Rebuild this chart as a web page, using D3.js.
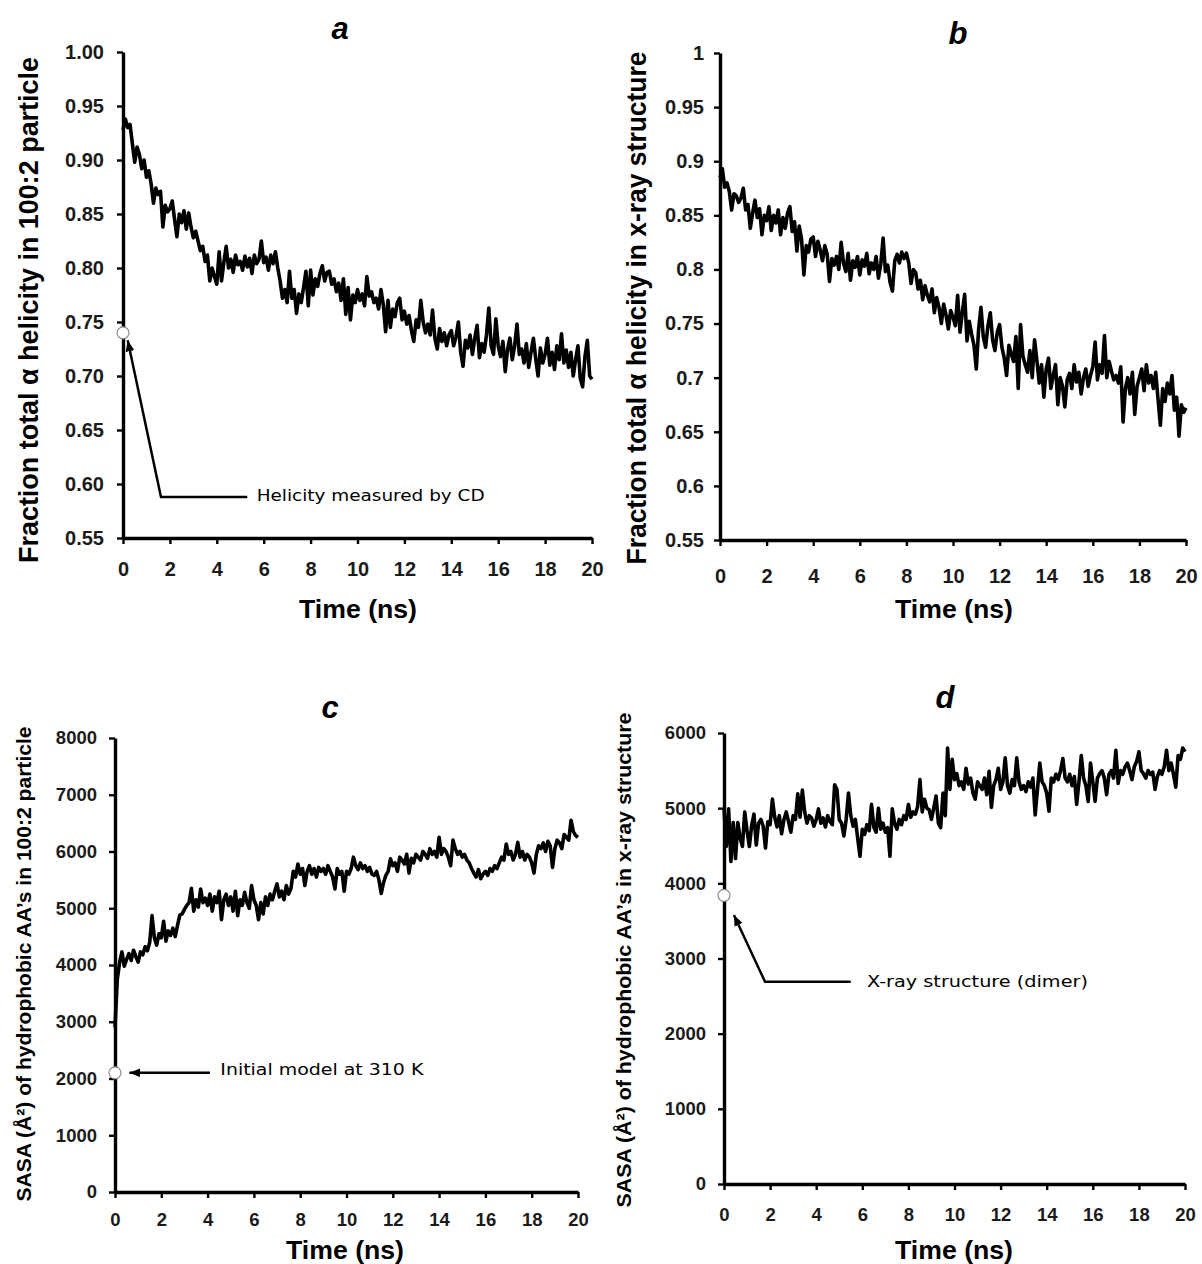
<!DOCTYPE html>
<html>
<head>
<meta charset="utf-8">
<script src="https://cdn.jsdelivr.net/npm/d3@7"></script>
<style>
  body { margin: 0; background: #fff; }
  svg { display: block; font-family: "Liberation Sans", Arial, sans-serif; }
</style>
</head>
<body>
<svg id="fig" width="1202" height="1264"></svg>
<script>
// ----- data (time step 0.1 ns, 0..20 ns)
var timeStep = 0.1;
var timeTicks = [0, 2, 4, 6, 8, 10, 12, 14, 16, 18, 20];
var helicityTicks = [0.55, 0.6, 0.65, 0.7, 0.75, 0.8, 0.85, 0.9, 0.95, 1];
var sasaTicksC = [0, 1000, 2000, 3000, 4000, 5000, 6000, 7000, 8000];
var sasaTicksD = [0, 1000, 2000, 3000, 4000, 5000, 6000];

// a: fraction helicity, 100:2 particle
var helicityA = [
  0.928, 0.938, 0.930, 0.933, 0.915, 0.898, 0.912, 0.905, 0.892, 0.900,
  0.884, 0.890, 0.878, 0.860, 0.874, 0.868, 0.871, 0.838, 0.858, 0.852,
  0.855, 0.862, 0.845, 0.829, 0.850, 0.842, 0.853, 0.836, 0.851, 0.838,
  0.828, 0.834, 0.825, 0.816, 0.820, 0.806, 0.812, 0.788, 0.800, 0.792,
  0.785, 0.815, 0.788, 0.805, 0.820, 0.800, 0.808, 0.796, 0.812, 0.803,
  0.806, 0.798, 0.811, 0.801, 0.809, 0.795, 0.812, 0.804, 0.808, 0.825,
  0.805, 0.810, 0.798, 0.812, 0.804, 0.815, 0.800, 0.788, 0.772, 0.780,
  0.768, 0.797, 0.772, 0.780, 0.758, 0.776, 0.768, 0.782, 0.797, 0.765,
  0.798, 0.775, 0.790, 0.783, 0.795, 0.802, 0.788, 0.796, 0.797, 0.785,
  0.790, 0.778, 0.786, 0.770, 0.790, 0.757, 0.782, 0.752, 0.775, 0.768,
  0.780, 0.770, 0.776, 0.765, 0.792, 0.774, 0.778, 0.768, 0.772, 0.762,
  0.780, 0.766, 0.741, 0.770, 0.745, 0.762, 0.755, 0.768, 0.772, 0.752,
  0.760, 0.748, 0.756, 0.742, 0.732, 0.752, 0.745, 0.770, 0.750, 0.740,
  0.748, 0.738, 0.761, 0.735, 0.725, 0.744, 0.732, 0.740, 0.728, 0.738,
  0.742, 0.728, 0.736, 0.750, 0.722, 0.709, 0.733, 0.726, 0.738, 0.720,
  0.735, 0.747, 0.717, 0.730, 0.722, 0.738, 0.763, 0.728, 0.720, 0.753,
  0.728, 0.718, 0.732, 0.704, 0.725, 0.735, 0.715, 0.728, 0.748, 0.720,
  0.725, 0.712, 0.730, 0.708, 0.722, 0.735, 0.716, 0.700, 0.726, 0.712,
  0.720, 0.735, 0.710, 0.722, 0.706, 0.728, 0.715, 0.739, 0.712, 0.724,
  0.708, 0.722, 0.700, 0.715, 0.728, 0.698, 0.690, 0.718, 0.733, 0.700,
  0.697
];

// b: fraction helicity, x-ray structure
var helicityB = [
  0.885, 0.893, 0.876, 0.880, 0.872, 0.855, 0.870, 0.868, 0.862, 0.866,
  0.875, 0.855, 0.860, 0.838, 0.852, 0.864, 0.848, 0.856, 0.832, 0.850,
  0.845, 0.858, 0.836, 0.850, 0.843, 0.855, 0.832, 0.848, 0.838, 0.852,
  0.858, 0.835, 0.844, 0.817, 0.840, 0.828, 0.795, 0.822, 0.816, 0.828,
  0.830, 0.812, 0.826, 0.818, 0.808, 0.822, 0.814, 0.789, 0.810, 0.804,
  0.812, 0.800, 0.825, 0.806, 0.798, 0.815, 0.790, 0.808, 0.802, 0.812,
  0.795, 0.809, 0.803, 0.815, 0.796, 0.806, 0.800, 0.812, 0.792, 0.805,
  0.829, 0.798, 0.804, 0.788, 0.780, 0.808, 0.814, 0.806, 0.816, 0.810,
  0.815, 0.806, 0.787, 0.800, 0.797, 0.782, 0.790, 0.772, 0.785, 0.776,
  0.770, 0.782, 0.760, 0.774, 0.765, 0.750, 0.768, 0.758, 0.745, 0.762,
  0.756, 0.748, 0.776, 0.742, 0.760, 0.777, 0.734, 0.752, 0.740, 0.730,
  0.708, 0.745, 0.765, 0.738, 0.728, 0.748, 0.760, 0.735, 0.725, 0.742,
  0.749, 0.728, 0.718, 0.702, 0.730, 0.722, 0.715, 0.738, 0.690, 0.749,
  0.720, 0.712, 0.705, 0.725, 0.700, 0.735, 0.716, 0.695, 0.712, 0.682,
  0.708, 0.718, 0.690, 0.702, 0.712, 0.675, 0.700, 0.692, 0.673, 0.698,
  0.704, 0.690, 0.712, 0.696, 0.705, 0.685, 0.700, 0.708, 0.692, 0.702,
  0.710, 0.733, 0.698, 0.712, 0.704, 0.739, 0.700, 0.715, 0.706, 0.698,
  0.702, 0.695, 0.710, 0.659, 0.690, 0.700, 0.685, 0.705, 0.666, 0.692,
  0.700, 0.708, 0.688, 0.712, 0.695, 0.702, 0.690, 0.705, 0.680, 0.656,
  0.690, 0.678, 0.695, 0.685, 0.702, 0.670, 0.682, 0.646, 0.675, 0.668,
  0.672
];

// c: SASA of hydrophobic AA's, 100:2 particle
var sasaC = [
  2900, 3750, 4050, 4230, 3980, 4100, 4200, 4080, 4260, 4150,
  4050, 4230, 4180, 4320, 4250, 4400, 4870, 4480, 4350, 4550,
  4480, 4770, 4420, 4600, 4520, 4650, 4500, 4700, 4880, 4900,
  4980, 5050, 5100, 5350, 4950, 5150, 5020, 5340, 5100, 5180,
  5050, 5250, 4950, 5200, 5100, 5300, 4800, 5150, 5250, 5050,
  5200, 4950, 5300, 4870, 5150, 5050, 5280, 5100, 5000, 5400,
  5150, 5050, 4800, 5100, 4900, 5200, 5050, 5250, 5150, 5300,
  5430, 5200, 5300, 5150, 5400, 5250, 5350, 5650, 5550, 5780,
  5600, 5700, 5400, 5650, 5750, 5600, 5700, 5550, 5720, 5650,
  5700, 5600, 5750, 5650, 5550, 5340, 5700, 5600, 5650, 5300,
  5650, 5600, 5700, 5900, 5750, 5680, 5800, 5700, 5750, 5650,
  5720, 5600, 5580, 5650, 5500, 5260, 5450, 5580, 5650, 5870,
  5750, 5800, 5650, 5900, 5850, 5780, 5950, 5620, 5880, 5800,
  5950, 5900, 5850, 6000, 5950, 5880, 6050, 5950, 6000, 5900,
  6250, 5950, 6050, 6000, 5900, 5750, 6200, 6050, 5950, 6000,
  5900, 5950, 5850, 5800, 5700, 5620, 5550, 5680, 5520, 5600,
  5650, 5580, 5700, 5650, 5750, 5700, 5800, 5900, 5850, 6130,
  5950, 6000, 5850, 5950, 6160, 5900, 6000, 5850, 5950, 5900,
  5800, 5620, 5950, 6100, 6050, 6150, 6000, 6180, 6100, 5720,
  6050, 6200, 6150, 6050, 6300, 6250, 6200, 6550, 6350, 6280,
  6250
];

// d: SASA of hydrophobic AA's, x-ray structure
var sasaD = [
  5000, 4490, 4990, 4290, 4810, 4330, 4810, 4600, 4490, 4950,
  4700, 4490, 4770, 4920, 4510, 4800, 4850, 4760, 4470, 4820,
  4780, 5120, 4880, 4750, 4900, 4660, 4850, 4950, 4820, 4680,
  4900, 4850, 5190, 4880, 5240, 4950, 4800, 4900, 4870, 4760,
  4850, 4990, 4800, 4870, 4750, 4900, 4820, 4780, 5310, 5250,
  4850, 4800, 4630, 4850, 5200, 4900, 4760, 4850, 4600, 4360,
  4720, 4650, 4780, 4700, 5050, 4750, 4680, 5000, 4720, 4800,
  4680, 4740, 4360, 4990, 4800, 4720, 4850, 4780, 4900, 4850,
  5050, 4880, 4950, 4920, 5020, 5380, 4950, 5120, 5000, 4980,
  4850, 5000, 5160, 4800, 4740, 5200, 4900, 5800, 5250, 5650,
  5380, 5460, 5300, 5350, 5250, 5530, 5320, 5400, 5200, 5120,
  5350, 5300, 5250, 5400, 5180, 5490, 5010, 5300, 5380, 5530,
  5250, 5350, 5670, 5300, 5200, 5380, 5300, 5670, 5350, 5250,
  5300, 5220, 5350, 5280, 5400, 4910, 5250, 5600, 5350, 5300,
  5200, 4960, 5400, 5350, 5450, 5380, 5500, 5660, 5400, 5350,
  5450, 5300, 5420, 5050, 5350, 5700, 5400, 5300, 5090, 5600,
  5350, 5090, 5400, 5460, 5500, 5400, 5180, 5450, 5500, 5400,
  5770, 5330, 5500, 5450, 5550, 5600, 5500, 5380, 5550, 5620,
  5750, 5500, 5460, 5400, 5500, 5450, 5480, 5250, 5420, 5500,
  5450, 5550, 5770, 5500, 5600, 5450, 5280, 5700, 5650, 5800,
  5750
];

// measured reference points
var cdHelicity = 0.74;
var initialSasa = 2100;
var xraySasa = 3840;

var svg = d3.select("#fig");

svg.append("defs").append("marker")
    .attr("id", "arrow")
    .attr("viewBox", "0 0 10 8")
    .attr("refX", 10).attr("refY", 4)
    .attr("markerWidth", 11).attr("markerHeight", 9)
    .attr("markerUnits", "userSpaceOnUse")
    .attr("orient", "auto")
  .append("path")
    .attr("d", "M0,0 L10,4 L0,8 z")
    .attr("fill", "#000");

function drawPanel(p) {
  var x = d3.scaleLinear().domain([0, 20]).range(p.xr);
  var y = d3.scaleLinear().domain(p.yd).range(p.yr);
  var g = svg.append("g");

  var xAxis = g.append("g")
      .attr("transform", "translate(0," + p.yr[0] + ")")
      .call(d3.axisBottom(x).tickValues(timeTicks).tickSize(6)
            .tickSizeOuter(0).tickPadding(p.xpad));
  var yAxis = g.append("g")
      .attr("transform", "translate(" + p.xr[0] + ",0)")
      .call(d3.axisLeft(y).tickValues(p.ticks).tickFormat(d3.format(p.fmt))
            .tickSize(6).tickSizeOuter(0).tickPadding(p.ypad));

  [xAxis, yAxis].forEach(function(a) {
    a.select(".domain").attr("stroke", "#000").attr("stroke-width", 3.4);
    a.selectAll(".tick line").attr("stroke", "#000").attr("stroke-width", 2.4);
    a.selectAll(".tick text")
      .attr("fill", "#1a1a1a")
      .style("font-size", p.tickFont + "px")
      .style("font-weight", "bold");
  });

  var line = d3.line()
      .x(function(d, i) { return x(i * timeStep); })
      .y(function(d) { return y(d); });

  g.append("path")
      .datum(p.values)
      .attr("d", line)
      .attr("fill", "none")
      .attr("stroke", "#000")
      .attr("stroke-width", 3.6)
      .attr("stroke-linejoin", "round");

  // panel letter
  g.append("text")
      .attr("x", p.title[1]).attr("y", p.title[2])
      .attr("text-anchor", "middle")
      .style("font-size", "31px").style("font-weight", "bold").style("font-style", "italic")
      .text(p.title[0]);

  g.append("text")
      .attr("x", p.xlab[0]).attr("y", p.xlab[1])
      .attr("text-anchor", "middle")
      .attr("textLength", 118)
      .attr("lengthAdjust", "spacingAndGlyphs")
      .style("font-size", "26px").style("font-weight", "bold")
      .text("Time (ns)");

  g.append("text")
      .attr("transform", "translate(" + p.ylab[0] + "," + p.ylab[1] + ") rotate(-90)")
      .attr("text-anchor", "middle")
      .attr("textLength", p.ylab[3])
      .attr("lengthAdjust", "spacingAndGlyphs")
      .style("font-size", p.ylab[2] + "px").style("font-weight", "bold")
      .text(p.ytitle);

  if (p.note) p.note(g, x, y);
}

function marker(g, cx, cy) {
  g.append("circle")
      .attr("cx", cx).attr("cy", cy).attr("r", 6)
      .attr("fill", "#fff").attr("stroke", "#8a8a8a").attr("stroke-width", 1.2);
}

function noteText(g, tx, ty, len, str) {
  g.append("text")
      .attr("x", tx).attr("y", ty)
      .attr("dy", "0.35em")
      .attr("textLength", len)
      .attr("lengthAdjust", "spacingAndGlyphs")
      .style("font-family", "'DejaVu Sans', sans-serif")
      .style("font-size", "16px")
      .text(str);
}

drawPanel({
  values: helicityA, xr: [123, 592], yr: [538, 52], yd: [0.55, 1],
  ticks: helicityTicks, fmt: ".2f", xpad: 18, ypad: 13, tickFont: 20,
  title: ["a", 340, 39], xlab: [358, 618],
  ylab: [38, 310, 27, 506],
  ytitle: "Fraction total \u03b1 helicity in 100:2 particle",
  note: function(g, x, y) {
    g.append("path")
        .attr("d", d3.line()([[x(5.3), y(0.588)], [x(1.62), y(0.588)], [x(0.2), y(0.733)]]))
        .attr("fill", "none").attr("stroke", "#000").attr("stroke-width", 2.5)
        .attr("marker-end", "url(#arrow)");
    marker(g, x(0), y(cdHelicity));
    noteText(g, x(5.7), y(0.588) - 2, 228, "Helicity measured by CD");
  }
});

drawPanel({
  values: helicityB, xr: [720, 1186], yr: [540, 53], yd: [0.55, 1],
  ticks: helicityTicks, fmt: "~g", xpad: 23, ypad: 10, tickFont: 20,
  title: ["b", 958, 44], xlab: [954, 618],
  ylab: [646, 308, 27, 513],
  ytitle: "Fraction total \u03b1 helicity in x-ray structure"
});

drawPanel({
  values: sasaC, xr: [115, 578], yr: [1192, 738], yd: [0, 8000],
  ticks: sasaTicksC, fmt: "d", xpad: 15, ypad: 12, tickFont: 18.5,
  title: ["c", 330, 718], xlab: [345, 1259],
  ylab: [31, 964, 21, 475],
  ytitle: "SASA (\u00c5\u00b2) of hydrophobic AA\u2019s in 100:2 particle",
  note: function(g, x, y) {
    g.append("line")
        .attr("x1", x(4.1)).attr("y1", y(initialSasa))
        .attr("x2", x(0.62)).attr("y2", y(initialSasa))
        .attr("stroke", "#000").attr("stroke-width", 2.5)
        .attr("marker-end", "url(#arrow)");
    marker(g, x(0), y(initialSasa));
    noteText(g, x(4.55), y(initialSasa) - 3, 203, "Initial model at 310 K");
  }
});

drawPanel({
  values: sasaD, xr: [724, 1185], yr: [1184, 733], yd: [0, 6000],
  ticks: sasaTicksD, fmt: "d", xpad: 18, ypad: 12, tickFont: 18.5,
  title: ["d", 945, 708], xlab: [954, 1259],
  ylab: [631, 960, 21, 495],
  ytitle: "SASA (\u00c5\u00b2) of hydrophobic AA\u2019s in x-ray structure",
  note: function(g, x, y) {
    g.append("path")
        .attr("d", d3.line()([[x(5.5), y(2690)], [x(1.78), y(2690)], [x(0.43), y(3580)]]))
        .attr("fill", "none").attr("stroke", "#000").attr("stroke-width", 2.5)
        .attr("marker-end", "url(#arrow)");
    marker(g, x(0), y(xraySasa));
    noteText(g, x(6.2), y(2690), 221, "X-ray structure (dimer)");
  }
});
</script>
</body>
</html>
